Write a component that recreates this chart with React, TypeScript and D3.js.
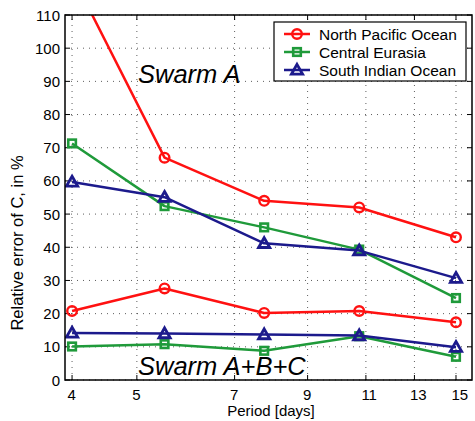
import React, { useRef, useEffect } from "react";
import * as d3 from "d3";

const periods = [4, 5.5, 7.75, 10.75, 15];
const xTicks = [4, 5, 7, 9, 11, 13, 15];
const yTicks = [0, 10, 20, 30, 40, 50, 60, 70, 80, 90, 100, 110];

const northPacificA = [122, 67, 54, 52, 43];
const centralEurasiaA = [71.3, 52.4, 46, 39.3, 24.7];
const southIndianA = [59.7, 55.1, 41.2, 39, 30.7];
const northPacificABC = [20.8, 27.6, 20.2, 20.8, 17.4];
const centralEurasiaABC = [10.1, 10.8, 8.8, 13.2, 7];
const southIndianABC = [14.2, 14, 13.7, 13.4, 9.9];

const seriesNames = ["North Pacific Ocean", "Central Eurasia", "South Indian Ocean"];
const colors = ["#ff1111", "#1f9a3a", "#1c1a8c"];
const markers = ["circle", "square", "triangle"];

function App() {
  const svgRef = useRef<SVGSVGElement>(null);

  useEffect(() => {
    const width = 475;
    const height = 421;
    const margin = { top: 15, right: 3, bottom: 41, left: 65 };
    const svg = d3.select(svgRef.current);
    svg.selectAll("*").remove();
    svg.attr("width", width).attr("height", height);

    const x = d3.scaleLog().domain([3.904, 15.85]).range([margin.left, width - margin.right]);
    const y = d3.scaleLinear().domain([0, 110]).range([height - margin.bottom, margin.top]);
    const x0 = margin.left, x1 = width - margin.right;
    const y0 = height - margin.bottom, y1 = margin.top;

    const font = "'Liberation Sans', Arial, sans-serif";

    svg.append("defs").append("clipPath").attr("id", "plotClip")
      .append("rect").attr("x", x0).attr("y", y1).attr("width", x1 - x0).attr("height", y0 - y1);

    // grid
    const grid = svg.append("g").attr("stroke", "#333").attr("stroke-width", 0.8).attr("stroke-dasharray", "1,5");
    xTicks.forEach(t => grid.append("line").attr("x1", x(t)).attr("x2", x(t)).attr("y1", y0).attr("y2", y1));
    yTicks.forEach(t => grid.append("line").attr("x1", x0).attr("x2", x1).attr("y1", y(t)).attr("y2", y(t)));

    // ticks inside, all four sides
    const ticks = svg.append("g").attr("stroke", "#000").attr("stroke-width", 1);
    xTicks.forEach(t => {
      ticks.append("line").attr("x1", x(t)).attr("x2", x(t)).attr("y1", y0).attr("y2", y0 - 5);
      ticks.append("line").attr("x1", x(t)).attr("x2", x(t)).attr("y1", y1).attr("y2", y1 + 5);
    });
    yTicks.forEach(t => {
      ticks.append("line").attr("x1", x0).attr("x2", x0 + 5).attr("y1", y(t)).attr("y2", y(t));
      ticks.append("line").attr("x1", x1).attr("x2", x1 - 5).attr("y1", y(t)).attr("y2", y(t));
    });

    // tick labels (MATLAB-style: left edge just left of tick)
    svg.append("g").selectAll("text").data(xTicks).enter().append("text")
      .attr("x", d => x(d) - 4.5).attr("y", y0 + 20).attr("text-anchor", "start")
      .attr("font-family", font).attr("font-size", 15).text(d => d);
    svg.append("g").selectAll("text").data(yTicks).enter().append("text")
      .attr("x", x0 - 5).attr("y", d => y(d) + 5.5).attr("text-anchor", "end")
      .attr("font-family", font).attr("font-size", 15).text(d => d);

    svg.append("text").attr("x", 271).attr("y", 416).attr("text-anchor", "middle")
      .attr("font-family", font).attr("font-size", 15).text("Period [days]");
    svg.append("text").attr("transform", "translate(23,243) rotate(-90)").attr("text-anchor", "middle")
      .attr("font-family", font).attr("font-size", 16.5).text("Relative error of C, in %");

    // annotations
    svg.append("text").attr("x", 138).attr("y", 83).attr("font-family", font)
      .attr("font-style", "italic").attr("font-size", 25.5).text("Swarm A");
    svg.append("text").attr("x", 138).attr("y", 375).attr("font-family", font)
      .attr("font-style", "italic").attr("font-size", 25.5).text("Swarm A+B+C");

    const drawMarker = (g: any, kind: string, cx: number, cy: number, color: string) => {
      if (kind === "circle") {
        g.append("circle").attr("cx", cx).attr("cy", cy).attr("r", 4.8)
          .attr("fill", "none").attr("stroke", color).attr("stroke-width", 2.4);
      } else if (kind === "square") {
        g.append("rect").attr("x", cx - 3.8).attr("y", cy - 3.8).attr("width", 7.6).attr("height", 7.6)
          .attr("fill", "none").attr("stroke", color).attr("stroke-width", 2.6);
      } else {
        const s = 5.6;
        g.append("path").attr("d", `M${cx},${cy - s}L${cx + s},${cy + s * 0.75}L${cx - s},${cy + s * 0.75}Z`)
          .attr("fill", "none").attr("stroke", color).attr("stroke-width", 2.8).attr("stroke-linejoin", "miter");
      }
    };

    const line = d3.line<number>().x((_, i) => x(periods[i])).y(d => y(d));
    const allSeries = [
      { vals: northPacificABC, k: 0 },
      { vals: centralEurasiaABC, k: 1 },
      { vals: southIndianABC, k: 2 },
      { vals: northPacificA, k: 0 },
      { vals: centralEurasiaA, k: 1 },
      { vals: southIndianA, k: 2 },
    ];
    const plot = svg.append("g").attr("clip-path", "url(#plotClip)");
    allSeries.forEach(s => {
      plot.append("path").attr("d", line(s.vals)).attr("fill", "none")
        .attr("stroke", colors[s.k]).attr("stroke-width", 2.5).attr("stroke-linejoin", "round");
      s.vals.forEach((v, i) => drawMarker(plot, markers[s.k], x(periods[i]), y(v), colors[s.k]));
    });

    // box
    svg.append("rect").attr("x", x0).attr("y", y1).attr("width", x1 - x0).attr("height", y0 - y1)
      .attr("fill", "none").attr("stroke", "#000").attr("stroke-width", 1.5);

    // legend
    const leg = svg.append("g");
    leg.append("rect").attr("x", 274).attr("y", 22).attr("width", 192).attr("height", 59)
      .attr("fill", "#fff").attr("stroke", "#000").attr("stroke-width", 1.2);
    seriesNames.forEach((name, i) => {
      const ly = 34 + i * 18;
      leg.append("line").attr("x1", 284).attr("x2", 310).attr("y1", ly).attr("y2", ly)
        .attr("stroke", colors[i]).attr("stroke-width", 2.5);
      drawMarker(leg, markers[i], 297, ly, colors[i]);
      leg.append("text").attr("x", 319).attr("y", ly + 5.5).attr("font-family", font)
        .attr("font-size", 15.5).text(name);
    });
  }, []);

  return <svg ref={svgRef} style={{ position: "absolute", left: 0, top: 0 }}></svg>;
}

export default App;
